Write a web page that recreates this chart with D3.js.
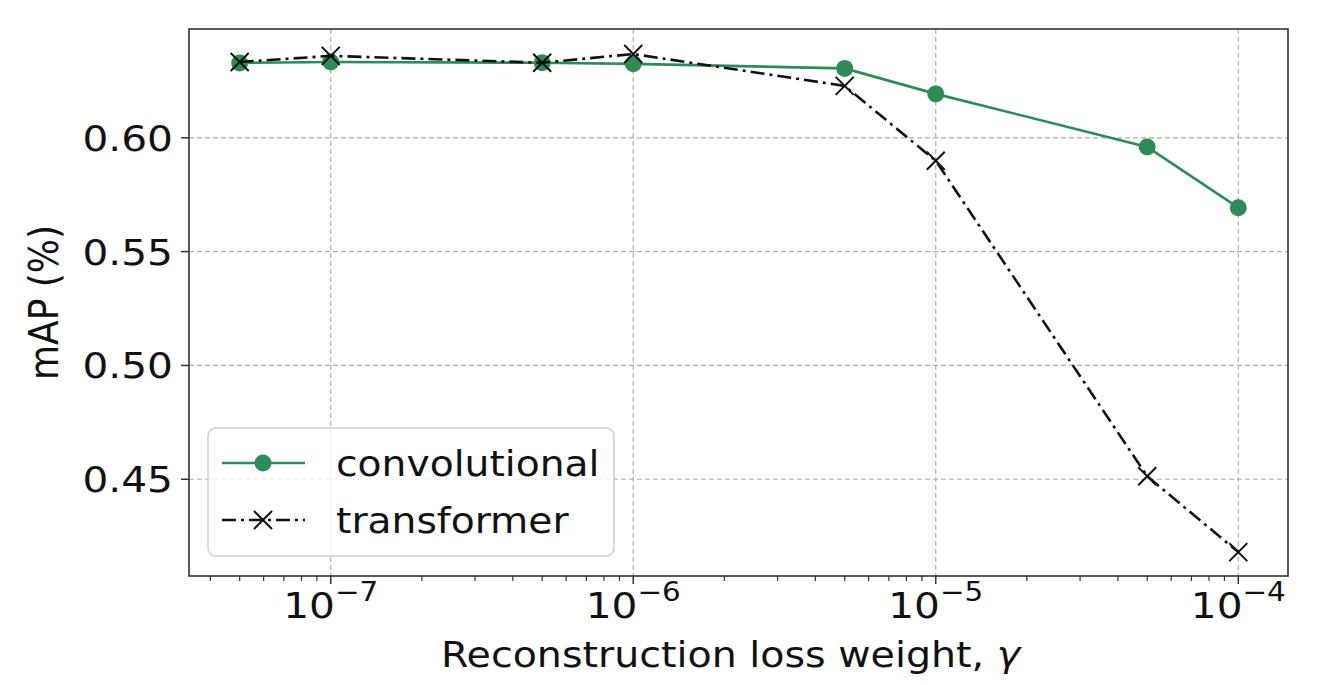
<!DOCTYPE html>
<html><head><meta charset="utf-8">
<script src="https://cdn.jsdelivr.net/npm/d3@7/dist/d3.min.js"></script>
<style>body{margin:0;background:#fff}text{font-family:"DejaVu Sans",sans-serif;fill:#111}</style>
</head><body><svg id="c" width="1326" height="685"></svg>
<script>
const gammas = [5e-8, 1e-7, 5e-7, 1e-6, 5e-6, 1e-5, 5e-5, 1e-4];
const convolutional = [0.6329, 0.6333, 0.6330, 0.6325, 0.6305, 0.6193, 0.5960, 0.5693];
const transformer = [0.6333, 0.6360, 0.6330, 0.6368, 0.6228, 0.5899, 0.4513, 0.4180];
const xMajorExp = [-7, -6, -5, -4];
const yTicks = [0.45, 0.50, 0.55, 0.60];
const seriesNames = ["convolutional", "transformer"];
const xLabelMain = "Reconstruction loss weight, ";
const xLabelSym = "\u03b3";
const yLabel = "mAP (%)";

const W = 1326, H = 685;
const L = 189, R = 1288, T = 29, B = 576;
const SX = 1.13;
const svg = d3.select("#c");
const x = d3.scaleLog().domain([3.4e-8, 1.46e-4]).range([L, R]);
const y = d3.scaleLinear().domain([0.4075, 0.6478]).range([B, T]);
const green = "#2e8b57";
const gridC = "#b0b0b0";

// grid
svg.append("g").selectAll("line").data(xMajorExp).join("line")
  .attr("x1", d => x(Math.pow(10, d))).attr("x2", d => x(Math.pow(10, d)))
  .attr("y1", T).attr("y2", B).attr("stroke", gridC).attr("stroke-width", 1.2).attr("stroke-dasharray", "5,3");
svg.append("g").selectAll("line").data(yTicks).join("line")
  .attr("x1", L).attr("x2", R).attr("y1", d => y(d)).attr("y2", d => y(d))
  .attr("stroke", gridC).attr("stroke-width", 1.2).attr("stroke-dasharray", "5,3");

// minor ticks
const minor = [];
for (let e = -9; e <= -3; e++) for (let k = 2; k <= 9; k++) { const v = k * Math.pow(10, e); if (v >= x.domain()[0] && v <= x.domain()[1]) minor.push(v); }
svg.append("g").selectAll("line").data(minor).join("line")
  .attr("x1", d => x(d)).attr("x2", d => x(d)).attr("y1", B).attr("y2", B + 5)
  .attr("stroke", "#333").attr("stroke-width", 1.2);
// major ticks
svg.append("g").selectAll("line").data(xMajorExp).join("line")
  .attr("x1", d => x(Math.pow(10, d))).attr("x2", d => x(Math.pow(10, d))).attr("y1", B).attr("y2", B + 8)
  .attr("stroke", "#333").attr("stroke-width", 1.5);
svg.append("g").selectAll("line").data(yTicks).join("line")
  .attr("x1", L - 8).attr("x2", L).attr("y1", d => y(d)).attr("y2", d => y(d))
  .attr("stroke", "#333").attr("stroke-width", 1.5);

// tick labels
svg.append("g").selectAll("text").data(yTicks).join("text")
  .attr("transform", d => `translate(${L - 16},${y(d)}) scale(${SX},1)`)
  .attr("text-anchor", "end").attr("dy", "0.36em").attr("font-size", 36)
  .text(d => d.toFixed(2));
const xt = svg.append("g").selectAll("g").data(xMajorExp).join("g")
  .attr("transform", d => `translate(${x(Math.pow(10, d))},618) scale(${SX},1)`);
xt.append("text").attr("text-anchor", "middle").attr("font-size", 36)
  .each(function (d) {
    const t = d3.select(this);
    t.append("tspan").text("10");
    t.append("tspan").attr("dy", -17).attr("font-size", 26).text("\u2212" + (-d));
  });

// lines
const lineGen = d3.line().x(d => x(d[0])).y(d => y(d[1]));
const convData = gammas.map((g, i) => [g, convolutional[i]]);
const transData = gammas.map((g, i) => [g, transformer[i]]);
svg.append("path").datum(convData).attr("d", lineGen).attr("fill", "none")
  .attr("stroke", green).attr("stroke-width", 2.6);
svg.append("g").selectAll("circle").data(convData).join("circle")
  .attr("cx", d => x(d[0])).attr("cy", d => y(d[1])).attr("r", 8.5).attr("fill", green);
svg.append("path").datum(transData).attr("d", lineGen).attr("fill", "none")
  .attr("stroke", "#111").attr("stroke-width", 2.6).attr("stroke-dasharray", "14,5,3,5");
const xm = 9;
svg.append("g").selectAll("path").data(transData).join("path")
  .attr("d", d => { const cx = x(d[0]), cy = y(d[1]); return `M${cx - xm},${cy - xm}L${cx + xm},${cy + xm}M${cx - xm},${cy + xm}L${cx + xm},${cy - xm}`; })
  .attr("stroke", "#111").attr("stroke-width", 2);

// frame
svg.append("rect").attr("x", L).attr("y", T).attr("width", R - L).attr("height", B - T)
  .attr("fill", "none").attr("stroke", "#333").attr("stroke-width", 1.6);

// axis labels
const xl = svg.append("text").attr("transform", `translate(${(L + R) / 2 - 8},667) scale(${SX},1)`)
  .attr("text-anchor", "middle").attr("font-size", 35);
xl.append("tspan").text(xLabelMain);
xl.append("tspan").attr("font-style", "italic").text(xLabelSym);
svg.append("text").attr("transform", `translate(58,${(T + B) / 2}) rotate(-90) scale(1,${SX})`)
  .attr("text-anchor", "middle").attr("font-size", 36).text(yLabel);

// legend
const lg = svg.append("g");
lg.append("rect").attr("x", 208).attr("y", 428).attr("width", 406).attr("height", 128).attr("rx", 8)
  .attr("fill", "#fff").attr("fill-opacity", 0.8).attr("stroke", "#d0d0d0").attr("stroke-width", 1.5);
const items = lg.selectAll("g").data(seriesNames).join("g")
  .attr("transform", (d, i) => `translate(0,${463 + i * 57})`);
items.append("line").attr("x1", 222).attr("x2", 305).attr("y1", 0).attr("y2", 0)
  .attr("stroke", (d, i) => i === 0 ? green : "#111").attr("stroke-width", 2.6)
  .attr("stroke-dasharray", (d, i) => i === 0 ? null : "14,5,3,5");
items.filter((d, i) => i === 0).append("circle").attr("cx", 263).attr("cy", 0).attr("r", 8.5).attr("fill", green);
items.filter((d, i) => i === 1).append("path")
  .attr("d", `M${263 - xm},${-xm}L${263 + xm},${xm}M${263 - xm},${xm}L${263 + xm},${-xm}`)
  .attr("stroke", "#111").attr("stroke-width", 2);
items.append("text").attr("transform", `translate(336,0) scale(1.09,1)`).attr("dy", "0.36em")
  .attr("font-size", 36).text(d => d);
</script></body></html>
